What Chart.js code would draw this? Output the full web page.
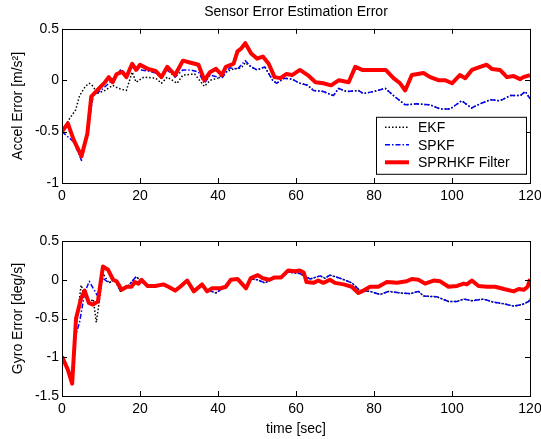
<!DOCTYPE html>
<html>
<head>
<meta charset="utf-8">
<script src="https://cdn.jsdelivr.net/npm/chart.js@4.4.1/dist/chart.umd.min.js"></script>
<style>
  html, body { margin: 0; padding: 0; background: #fff; }
  #wrap { position: relative; width: 541px; height: 439px; }
  canvas { position: absolute; left: 0; }
  #accel { top: 0; }
  #gyro { top: 215px; }
</style>
</head>
<body>
<div id="wrap">
  <canvas id="accel" width="541" height="215"></canvas>
  <canvas id="gyro" width="541" height="224"></canvas>
</div>
<script>
// ---- data ----
const seriesNames = ['EKF', 'SPKF', 'SPRHKF Filter'];
const xTicks = [0, 20, 40, 60, 80, 100, 120];
const accelTicks = [-1, -0.5, 0, 0.5];
const gyroTicks = [-1.5, -1, -0.5, 0, 0.5];

// accel error (top)
const accelEkfTime = [0, 2, 3.5, 4.5, 6, 7, 8, 9, 11, 13, 14.5, 16.5, 18, 19, 21, 24, 25.5, 27, 29.5, 31, 34, 36.5, 38, 40, 42, 44, 46, 47,
  48.5, 50, 52, 54, 55, 57, 59, 61, 63, 64.5, 67, 69.6, 70.9, 73, 76, 77.3, 79.9, 82.9, 85, 88, 91, 94.4, 97, 99.5, 102.5, 105, 107.2, 109.8, 112.3, 114.9, 117.5, 118.8, 120];
const accelEkf = [-0.50, -0.37, -0.29, -0.15, -0.06, -0.03, -0.06, -0.13, -0.10, -0.05, -0.08, -0.10, 0.08, -0.02, 0.03, 0.02, -0.03, 0.03, -0.03, 0.05, 0.06, -0.06, 0.00, 0.02, 0.08, 0.11, 0.12, 0.17,
  0.13, 0.10, 0.13, 0.00, -0.03, 0.02, 0.01, -0.03, -0.05, -0.10, -0.11, -0.15, -0.08, -0.11, -0.10, -0.13, -0.11, -0.08, -0.15, -0.24, -0.23, -0.24, -0.28, -0.28, -0.20, -0.27, -0.23, -0.19, -0.20, -0.15, -0.15, -0.11, -0.18];

const accelSpkfTime = [0, 3, 5, 6.5, 8, 10, 12, 14, 15, 16.5, 18, 20, 22, 24, 25.5, 27, 29, 31, 33, 35, 36.5, 38, 41, 43, 45, 47, 48.5, 50, 52, 54,
  55, 57, 59, 61, 63, 64.5, 67, 69.6, 70.9, 73, 76, 77.3, 79.9, 82.9, 85, 88, 91, 94.4, 97, 99.5, 102.5, 105, 107.2, 109.8, 112.3, 114.9, 117.5, 118.8, 120];
const accelSpkf = [-0.50, -0.60, -0.78, -0.52, -0.15, -0.10, -0.03, 0.05, 0.10, 0.04, 0.13, 0.10, 0.09, 0.07, 0.02, 0.10, 0.03, 0.10, 0.10, 0.08, -0.03, 0.05, 0.02, 0.12, 0.11, 0.19, 0.13, 0.10, 0.13, 0.00,
  -0.03, 0.02, 0.01, -0.03, -0.05, -0.10, -0.11, -0.15, -0.08, -0.11, -0.10, -0.13, -0.11, -0.08, -0.15, -0.24, -0.23, -0.24, -0.28, -0.28, -0.20, -0.27, -0.23, -0.19, -0.20, -0.15, -0.15, -0.11, -0.18];

const accelRhTime = [0, 1.5, 3, 5, 6.5, 7.5, 9, 11, 12, 13, 14, 15.5, 16.5, 18, 19, 20, 22, 24, 25.5, 27, 29, 31, 33, 35, 36.5, 38, 39.5, 41, 42, 44, 45, 46, 47, 48.5, 50, 51.5, 53,
  54.5, 56, 57.5, 59, 61, 63, 65, 67, 69, 71, 73.5, 75.2, 77, 79, 81, 83, 85, 86.7, 88, 89.7, 92.7, 94.4, 96.5, 98.2, 100, 102, 103.4, 105.1, 107.2, 108.9, 110.2, 112.3, 114.1, 115.8, 117.5, 118.3, 120];
const accelRh = [-0.50, -0.42, -0.58, -0.74, -0.52, -0.16, -0.10, -0.02, 0.03, -0.02, 0.06, 0.08, 0.03, 0.16, 0.10, 0.15, 0.11, 0.09, 0.03, 0.13, 0.05, 0.19, 0.17, 0.15, 0.00, 0.08, 0.11, 0.05, 0.13, 0.16, 0.28, 0.31, 0.36, 0.26, 0.21, 0.23, 0.16,
  0.03, 0.02, 0.06, 0.05, 0.10, 0.05, -0.02, -0.03, -0.05, 0.00, -0.02, 0.13, 0.10, 0.10, 0.10, 0.10, 0.02, -0.03, -0.10, 0.05, 0.07, 0.03, 0.00, 0.00, -0.03, 0.05, 0.02, 0.10, 0.13, 0.15, 0.11, 0.10, 0.03, 0.04, 0.01, 0.03, 0.05];

// gyro error (bottom)
const gyroEkfTime = [0, 1.5, 2.6, 3.6, 4.9, 5.8, 7, 8, 8.8, 9.5,
  10.5, 12, 13.5, 15, 17, 19, 21, 24, 26, 27.3, 29, 30.3, 32.1, 33.8, 35.9, 37.2, 39.5, 42, 43.3, 45, 47.2, 48.4, 50, 52, 54.5, 56.2, 58, 61, 63.6, 66.2, 67.4, 68.7,
  71.3, 74.3, 76.4, 79, 81.6, 83.7, 86.7, 89.3, 91.4, 92.7, 96.1, 99.1, 101.3, 103, 105.1, 108.1, 110.7, 113.3, 115.8, 118, 119.7, 120];
const gyroEkf = [-0.99, -1.16, -1.34, -0.60, -0.07, -0.20, -0.30, -0.25, -0.55, -0.30,
  0.08, -0.04, 0.00, -0.15, -0.08, 0.04, -0.05, -0.09, -0.07, -0.10, -0.13, -0.09, 0.00, -0.13, -0.07, -0.13, -0.17, -0.08, -0.01, 0.00, -0.09, 0.01, 0.00, -0.04, 0.02, 0.03, 0.10, 0.08, 0.01, 0.05, 0.02, 0.06,
  0.02, -0.04, -0.14, -0.15, -0.19, -0.15, -0.17, -0.18, -0.15, -0.21, -0.22, -0.28, -0.28, -0.25, -0.27, -0.25, -0.29, -0.31, -0.34, -0.32, -0.28, -0.24];

const gyroSpkfTime = [0, 1.5, 2.6, 3.6, 4.5, 5.8, 7, 8, 9,
  10.5, 12, 13.5, 15, 17, 19, 21, 24, 26, 27.3, 29, 30.3, 32.1, 33.8, 35.9, 37.2, 39.5, 42, 43.3, 45, 47.2, 48.4, 50, 52, 54.5, 56.2, 58, 61, 63.6, 66.2, 67.4, 68.7,
  71.3, 74.3, 76.4, 79, 81.6, 83.7, 86.7, 89.3, 91.4, 92.7, 96.1, 99.1, 101.3, 103, 105.1, 108.1, 110.7, 113.3, 115.8, 118, 119.7, 120];
const gyroSpkf = [-0.99, -1.16, -1.34, -0.70, -0.55, -0.17, -0.02, -0.11, -0.20,
  0.02, -0.04, 0.00, -0.15, -0.08, 0.04, -0.05, -0.09, -0.07, -0.10, -0.13, -0.09, 0.00, -0.13, -0.07, -0.13, -0.17, -0.08, -0.01, 0.00, -0.09, 0.01, 0.00, -0.04, 0.02, 0.03, 0.10, 0.08, 0.01, 0.05, 0.02, 0.06,
  0.02, -0.04, -0.14, -0.15, -0.19, -0.15, -0.17, -0.18, -0.15, -0.21, -0.22, -0.28, -0.28, -0.25, -0.27, -0.25, -0.29, -0.31, -0.34, -0.32, -0.28, -0.24];

const gyroRhTime = [0, 1.5, 2.6, 3.6, 4.9, 5.8, 6.9, 7.9, 9.2, 10.5, 11.8, 13.1, 14, 15.3, 16.6, 17.8, 18.7, 19.6, 20.4, 21.9, 23.9, 26, 27.3, 29, 30.3, 32.1, 33.8, 35.9, 37.2, 38.5,
  40.7, 42, 43.3, 45, 47.2, 48.4, 50.2, 51.5, 53.2, 54.5, 56.2, 58, 59.7, 61, 62, 62.7, 64.5, 65.7, 67, 68.7, 70, 72.2, 74.3, 76, 77.3, 79, 81.1, 83.3, 85.9, 88.4,
  89.7, 91.4, 93.1, 95.3, 97, 99.1, 101.3, 103, 103.8, 105.1, 106.8, 109, 111.1, 113.3, 115.8, 117.1, 118.4, 119.4, 120];
const gyroRh = [-0.99, -1.16, -1.34, -0.50, -0.24, -0.14, -0.30, -0.32, -0.28, 0.17, 0.13, 0.00, -0.02, -0.13, -0.09, -0.09, -0.03, -0.05, 0.00, -0.08, -0.08, -0.06, -0.09, -0.14, -0.09, -0.01, -0.15, -0.06, -0.15, -0.11,
  -0.11, -0.09, 0.00, 0.01, -0.11, 0.02, 0.06, 0.02, 0.00, 0.03, 0.03, 0.12, 0.11, 0.12, 0.09, -0.03, -0.04, -0.01, -0.04, 0.00, -0.04, -0.06, -0.09, -0.17, -0.14, -0.09, -0.09, -0.03, -0.04, -0.02,
  0.01, 0.00, -0.05, -0.01, -0.02, -0.09, -0.08, -0.05, -0.06, -0.01, -0.08, -0.09, -0.09, -0.12, -0.15, -0.12, -0.13, -0.09, 0.01];

// ---- styling ----
Chart.defaults.font.family = "'Liberation Sans', Arial, Helvetica, sans-serif";
Chart.defaults.font.size = 14;
Chart.defaults.color = '#000';

const lineStyles = [
  { borderColor: '#000000', borderWidth: 1.5, borderDash: [1.5, 2], order: 3 },
  { borderColor: '#0000ff', borderWidth: 1.5, borderDash: [5, 2, 1.5, 2], order: 2 },
  { borderColor: '#ff0000', borderWidth: 4, borderDash: [], order: 1 }
];

function pairs(xs, ys) {
  return xs.map((x, i) => ({ x: x, y: ys[i] }));
}

function makeDatasets(groups) {
  return groups.map((g, i) => Object.assign({
    label: seriesNames[i],
    data: pairs(g[0], g[1]),
    pointRadius: 0,
    tension: 0,
    fill: false,
    borderJoinStyle: 'round'
  }, lineStyles[i]));
}

// MATLAB-like box with inward ticks on all four sides
const boxPlugin = {
  id: 'box',
  afterDraw(chart) {
    const { ctx, chartArea: a, scales } = chart;
    const len = 5;
    ctx.save();
    ctx.strokeStyle = '#000';
    ctx.lineWidth = 1;
    ctx.beginPath();
    scales.x.ticks.forEach(t => {
      const px = Math.round(scales.x.getPixelForValue(t.value)) + 0.5;
      ctx.moveTo(px, a.bottom); ctx.lineTo(px, a.bottom - len);
      ctx.moveTo(px, a.top); ctx.lineTo(px, a.top + len);
    });
    scales.y.ticks.forEach(t => {
      const py = Math.round(scales.y.getPixelForValue(t.value)) + 0.5;
      ctx.moveTo(a.left, py); ctx.lineTo(a.left + len, py);
      ctx.moveTo(a.right, py); ctx.lineTo(a.right - len, py);
    });
    ctx.stroke();
    ctx.strokeRect(Math.round(a.left) + 0.5, Math.round(a.top) + 0.5,
      Math.round(a.right - a.left), Math.round(a.bottom - a.top));
    ctx.restore();
  }
};

// legend box inside the top axes, lower right
const legendPlugin = {
  id: 'boxLegend',
  afterDraw(chart) {
    const { ctx, chartArea: a } = chart;
    const x0 = a.right - 154, y0 = a.top + 88, w = 150, h = 57;
    ctx.save();
    ctx.fillStyle = '#fff';
    ctx.fillRect(x0, y0, w, h);
    ctx.strokeStyle = '#000';
    ctx.lineWidth = 1;
    ctx.strokeRect(x0 + 0.5, y0 + 0.5, w, h);
    ctx.font = "14px 'Liberation Sans', Arial, sans-serif";
    ctx.textBaseline = 'middle';
    ctx.textAlign = 'left';
    chart.data.datasets.forEach((ds, i) => {
      const y = y0 + 10.5 + i * 17.5;
      ctx.beginPath();
      ctx.strokeStyle = ds.borderColor;
      ctx.lineWidth = ds.borderWidth;
      ctx.setLineDash(ds.borderDash);
      ctx.moveTo(x0 + 9, y);
      ctx.lineTo(x0 + 33, y);
      ctx.stroke();
      ctx.setLineDash([]);
      ctx.fillStyle = '#000';
      ctx.fillText(ds.label, x0 + 42, y + 1);
    });
    ctx.restore();
  }
};

function axisOptions(yTicks, yTitle, xTitle, xHeight) {
  return {
    x: {
      type: 'linear',
      min: 0, max: 120,
      afterBuildTicks: s => { s.ticks = xTicks.map(v => ({ value: v })); },
      afterFit: s => { s.height = xHeight; s.paddingLeft = 0; s.paddingRight = 0; },
      grid: { display: false, drawTicks: false },
      border: { display: false },
      ticks: { padding: 5, maxRotation: 0, autoSkip: false, callback: v => String(v) },
      title: { display: !!xTitle, text: xTitle, padding: { top: 0, bottom: 1.5 } }
    },
    y: {
      type: 'linear',
      min: yTicks[0], max: yTicks[yTicks.length - 1],
      afterBuildTicks: s => { s.ticks = yTicks.map(v => ({ value: v })); },
      afterFit: s => { s.width = 62; s.paddingTop = 0; s.paddingBottom = 0; },
      grid: { display: false, drawTicks: false },
      border: { display: false },
      ticks: { padding: 3, autoSkip: false, callback: v => String(v) },
      title: { display: true, text: yTitle, padding: { top: 10, bottom: 0 } }
    }
  };
}

new Chart(document.getElementById('accel'), {
  type: 'line',
  data: {
    datasets: makeDatasets([[accelEkfTime, accelEkf], [accelSpkfTime, accelSpkf], [accelRhTime, accelRh]])
  },
  options: {
    responsive: false,
    animation: false,
    devicePixelRatio: 1,
    layout: { padding: { left: 0, right: 11, top: 0, bottom: 0 } },
    plugins: {
      legend: { display: false },
      tooltip: { enabled: false },
      title: {
        display: true,
        fullSize: false,
        text: 'Sensor Error Estimation Error',
        font: { size: 14, weight: 'normal' },
        padding: { top: 4, bottom: 8 }
      }
    },
    scales: axisOptions(accelTicks, 'Accel Error [m/s²]', '', 32)
  },
  plugins: [boxPlugin, legendPlugin]
});

new Chart(document.getElementById('gyro'), {
  type: 'line',
  data: {
    datasets: makeDatasets([[gyroEkfTime, gyroEkf], [gyroSpkfTime, gyroSpkf], [gyroRhTime, gyroRh]])
  },
  options: {
    responsive: false,
    animation: false,
    devicePixelRatio: 1,
    layout: { padding: { left: 0, right: 11, top: 26, bottom: 0 } },
    plugins: {
      legend: { display: false },
      tooltip: { enabled: false }
    },
    scales: axisOptions(gyroTicks, 'Gyro Error [deg/s]', 'time [sec]', 43)
  },
  plugins: [boxPlugin]
});
</script>
</body>
</html>
